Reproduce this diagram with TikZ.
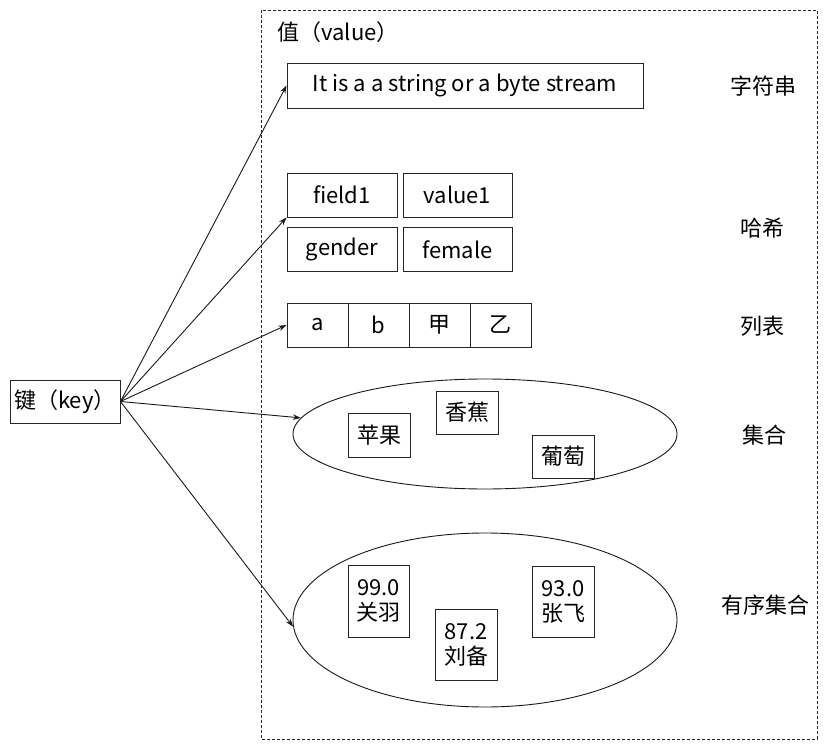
\documentclass[tikz,border=0pt]{standalone}
\usepackage{fontspec}
\setmainfont{Noto Sans CJK SC}
\usepackage{tikz}
\usetikzlibrary{shapes.geometric,arrows.meta}

\begin{document}
\begin{tikzpicture}[x=1pt,y=-1pt,line width=0.9pt,
  font=\fontsize{22}{25}\selectfont]
\tikzstyle{every node}+=[inner sep=0pt]
\tikzstyle{cell}=[draw=black!85,minimum height=44pt]
\tikzstyle{blob}=[draw=black!90,ellipse,minimum width=384pt]
\tikzstyle{tag}=[anchor=center]
\tikzstyle{link}=[black!90,-{Stealth[length=8pt,width=5.5pt]}]
\useasboundingbox (0,0) rectangle (831,752);
\draw [black!85,dash pattern=on 3pt off 2pt] (261,10) rectangle (817,739);
\node [anchor=west] (valtitle) at (277,32) {值（value）};
% key
\node [cell,minimum width=110pt,minimum height=43pt] (key) at (65,401.5) {键（key）};
% string
\node [cell,minimum width=356pt,minimum height=45pt] (str) at (465,85.5) {It is a a string or a byte stream};
\node [tag] (strtag) at (763,86) {字符串};
% hash
\node [cell,minimum width=110pt] (hfield) at (342,195) {field1};
\node [cell,minimum width=109pt] (hvalue) at (457.5,195) {value1};
\node [cell,minimum width=110pt] (hgender) at (342,249.5) {gender};
\node [cell,minimum width=109pt] (hfemale) at (457.5,249.5) {female};
\node [tag] (hashtag) at (762,228) {哈希};
% list
\node [cell,minimum width=61pt] (la) at (317.5,325) {a};
\node [cell,minimum width=61pt] (lb) at (378.5,325) {b};
\node [cell,minimum width=61pt] (lc) at (439.5,325) {甲};
\node [cell,minimum width=61pt] (ld) at (500.5,325) {乙};
\node [tag] (listtag) at (762,326) {列表};
% set
\node [blob,minimum height=110pt] (set) at (485,434) {};
\node [cell,minimum width=62pt] (sa) at (379,435) {苹果};
\node [cell,minimum width=62pt,minimum height=43pt] (sb) at (467,412.5) {香蕉};
\node [cell,minimum width=62pt,minimum height=43pt] (sc) at (563,456.5) {葡萄};
\node [tag] (settag) at (764,435) {集合};
% sorted set
\node [blob,minimum height=174pt] (zset) at (485,620) {};
\node [cell,minimum width=61pt,minimum height=72pt,align=center] (za) at (378.5,601) {99.0\\关羽};
\node [cell,minimum width=62pt,minimum height=71pt,align=center] (zb) at (466,644.5) {87.2\\刘备};
\node [cell,minimum width=62pt,minimum height=71pt,align=center] (zc) at (563,601.5) {93.0\\张飞};
\node [tag] (zsettag) at (765,605) {有序集合};
% arrows
\draw [link] (key.east) -- (str.west);
\draw [link] (key.east) -- (hfield.south west);
\draw [link] (key.east) -- (la.west);
\draw [link] (key.east) -- (set.175);
\draw [link] (key.east) -- (zset.182);
\end{tikzpicture}
\end{document}
